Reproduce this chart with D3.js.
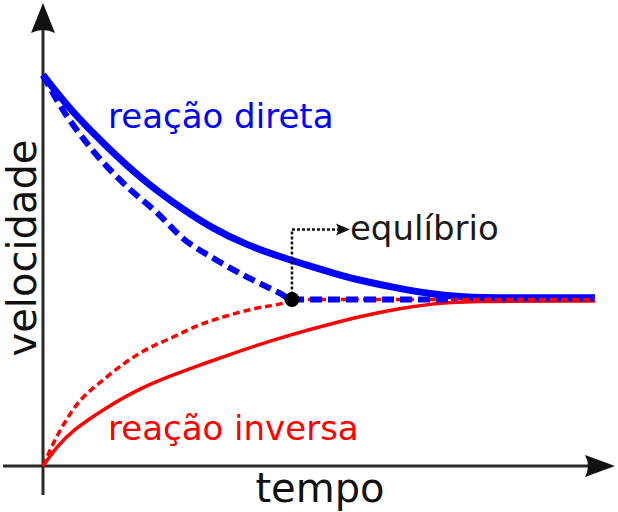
<!DOCTYPE html>
<html>
<head>
<meta charset="utf-8">
<script src="https://cdn.jsdelivr.net/npm/d3@7"></script>
<style>
  html, body { margin: 0; padding: 0; background: #fff; }
  svg { display: block; }
  text { font-family: "DejaVu Sans", sans-serif; }
</style>
</head>
<body>
<script>
// ---- data (time, velocity in arbitrary units) ----
const directSolidT = [0, 0.54, 1.16, 1.76, 2.36, 3.08, 3.70, 4.29, 4.89, 5.38, 5.80, 6.41, 7.01, 7.61, 8.28, 10];
const directSolidV = [10.0, 9.03, 8.16, 7.37, 6.73, 6.06, 5.65, 5.35, 5.09, 4.88, 4.73, 4.55, 4.40, 4.32, 4.30, 4.30];

const directDashT = [0, 0.25, 0.85, 1.45, 2.07, 2.57, 3.08, 3.70, 4.29, 4.51, 7.46];
const directDashV = [10.0, 9.36, 8.16, 7.24, 6.47, 5.78, 5.32, 4.83, 4.42, 4.26, 4.26];

const inverseSolidT = [0, 0.25, 0.54, 1.16, 1.76, 2.36, 2.84, 3.26, 3.88, 4.47, 5.20, 5.80, 6.41, 7.01, 7.61, 10];
const inverseSolidV = [0, 0.49, 0.92, 1.51, 1.99, 2.33, 2.58, 2.79, 3.09, 3.35, 3.63, 3.84, 4.02, 4.14, 4.22, 4.22];

const inverseDashT = [0, 0.13, 0.54, 1.16, 1.76, 2.36, 2.84, 3.26, 3.88, 4.35, 4.51, 10];
const inverseDashV = [0, 0.41, 1.43, 2.28, 2.89, 3.30, 3.61, 3.81, 4.04, 4.17, 4.26, 4.26];

const equilibriumPoint = [4.51, 4.26];

const labels = {
  yAxis: "velocidade",
  xAxis: "tempo",
  direct: "reação direta",
  inverse: "reação inversa",
  equilibrium: "equlíbrio"
};

// ---- layout ----
const W = 618, H = 512;
const x = d3.scaleLinear().domain([0, 10]).range([43, 595]);
const y = d3.scaleLinear().domain([0, 10]).range([466, 75]);

const svg = d3.select("body").append("svg").attr("width", W).attr("height", H);

const axisColor = "#2a2a2a";
const x0 = x(0), y0 = y(0);

// axes
svg.append("line").attr("x1", x0).attr("x2", x0).attr("y1", y0 + 29).attr("y2", 30)
  .attr("stroke", axisColor).attr("stroke-width", 3);
svg.append("line").attr("x1", 3).attr("x2", 590).attr("y1", y0).attr("y2", y0)
  .attr("stroke", axisColor).attr("stroke-width", 3);

// arrowheads (concave style)
svg.append("path")
  .attr("d", `M${x0},3 L${x0 + 12},33 Q${x0},27 ${x0 - 12},33 Z`)
  .attr("fill", "#111");
svg.append("path")
  .attr("d", `M615,${y0} L585,${y0 - 11} Q591,${y0} 585,${y0 + 11} Z`)
  .attr("fill", "#111");

function zip(ts, vs) { return ts.map((t, i) => [t, vs[i]]); }
const smooth = d3.line().x(d => x(d[0])).y(d => y(d[1])).curve(d3.curveBasis);
const through = d3.line().x(d => x(d[0])).y(d => y(d[1])).curve(d3.curveMonotoneX);

// curves
svg.append("path").datum(zip(inverseSolidT, inverseSolidV)).attr("d", smooth)
  .attr("fill", "none").attr("stroke", "#ff0000").attr("stroke-width", 3.5);
svg.append("path").datum(zip(directSolidT, directSolidV)).attr("d", smooth)
  .attr("fill", "none").attr("stroke", "#0000ff").attr("stroke-width", 7);
svg.append("path").datum(zip(inverseDashT, inverseDashV)).attr("d", through)
  .attr("fill", "none").attr("stroke", "#ff0000").attr("stroke-width", 3.5)
  .attr("stroke-dasharray", "7,4");
svg.append("path").datum(zip(directDashT, directDashV)).attr("d", through)
  .attr("fill", "none").attr("stroke", "#0000ff").attr("stroke-width", 6)
  .attr("stroke-dasharray", "12,6");

// equilibrium annotation
const ex = x(equilibriumPoint[0]), ey = y(equilibriumPoint[1]);
const cornerY = ey - 70, arrowEnd = ex + 46;
svg.append("path")
  .attr("d", `M${ex},${ey} L${ex},${cornerY} L${arrowEnd},${cornerY}`)
  .attr("fill", "none").attr("stroke", "#111").attr("stroke-width", 2.5)
  .attr("stroke-dasharray", "3,2");
svg.append("path")
  .attr("d", `M${arrowEnd + 12},${cornerY} L${arrowEnd - 2},${cornerY - 6} Q${arrowEnd + 2},${cornerY} ${arrowEnd - 2},${cornerY + 6} Z`)
  .attr("fill", "#111");
svg.append("circle").attr("cx", ex).attr("cy", ey).attr("r", 7.5).attr("fill", "#000");

svg.append("text").attr("x", ex + 58).attr("y", cornerY + 11)
  .attr("font-size", 34).attr("fill", "#1a1a1a").text(labels.equilibrium);

// series labels
svg.append("text").attr("x", 108).attr("y", 128)
  .attr("font-size", 34).attr("fill", "#0000ff").text(labels.direct);
svg.append("text").attr("x", 108).attr("y", 440)
  .attr("font-size", 34).attr("fill", "#ff0000").text(labels.inverse);

// axis titles
svg.append("text").attr("x", 320).attr("y", 502).attr("text-anchor", "middle")
  .attr("font-size", 40).attr("fill", "#111").text(labels.xAxis);
svg.append("text").attr("transform", "translate(36,248) rotate(-90)")
  .attr("text-anchor", "middle").attr("font-size", 40).attr("fill", "#111").text(labels.yAxis);
</script>
</body>
</html>
